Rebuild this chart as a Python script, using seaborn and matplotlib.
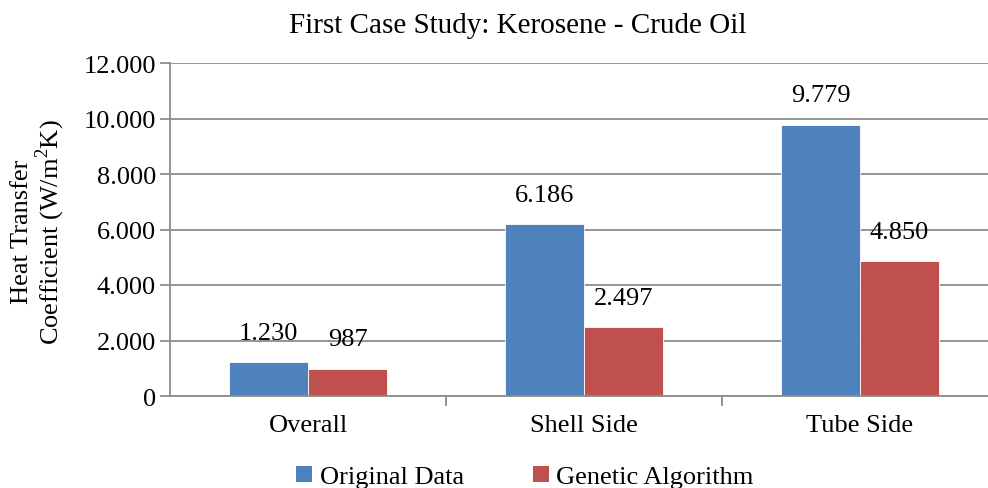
import matplotlib
matplotlib.use("Agg")
import matplotlib.pyplot as plt
import seaborn as sns
import pandas as pd
from matplotlib.ticker import FuncFormatter, FixedLocator
from matplotlib.patches import Patch

categories = ["Overall", "Shell Side", "Tube Side"]
series_names = ["Original Data", "Genetic Algorithm"]
original_data = [1230, 6186, 9779]
genetic_algorithm = [987, 2497, 4850]
y_ticks = [0, 2000, 4000, 6000, 8000, 10000, 12000]
colors = ["#4F81BD", "#C0504D"]

df = pd.DataFrame({
    "Category": categories * 2,
    "Series": [series_names[0]] * 3 + [series_names[1]] * 3,
    "Value": original_data + genetic_algorithm,
})

sns.set_theme(style="white")
plt.rcParams["font.family"] = ["Liberation Serif", "DejaVu Serif"]
plt.rcParams["mathtext.fontset"] = "custom"
plt.rcParams["mathtext.rm"] = "Liberation Serif"
plt.rcParams["text.color"] = "black"
plt.rcParams["xtick.color"] = "black"
plt.rcParams["ytick.color"] = "black"

FS = 19
W, H = 988, 489
fig = plt.figure(figsize=(W / 100, H / 100), dpi=100)
left, right, top, bottom = 170, 988, 64, 397
ax = fig.add_axes([left / W, 1 - bottom / H, (right - left) / W, (bottom - top) / H])

sns.barplot(data=df, x="Category", y="Value", hue="Series", palette=colors,
            width=0.573, ax=ax, saturation=1, legend=False, errorbar=None,
            edgecolor="white", linewidth=0.6)

ax.set_ylim(0, 12000)
ax.set_xlim(-0.5, 2.5 - 10 / 276)
ax.yaxis.set_major_locator(FixedLocator(y_ticks))
fmt = lambda v, p=None: f"{int(v):,}".replace(",", ".")
ax.yaxis.set_major_formatter(FuncFormatter(fmt))
ax.grid(axis="y", color="#8C8C8C", linewidth=1.3)
ax.set_axisbelow(True)
for s in ["top", "right"]:
    ax.spines[s].set_visible(False)
for s in ["left", "bottom"]:
    ax.spines[s].set_color("#8C8C8C")
    ax.spines[s].set_linewidth(1.3)

ax.tick_params(axis="y", which="major", length=7, width=1.3, color="#8C8C8C",
               labelcolor="black", labelsize=FS, pad=3, left=True)
ax.set_xticks([0, 1, 2])
ax.set_xticklabels(categories, fontsize=FS, color="black")
ax.tick_params(axis="x", which="major", length=0, pad=13)
ax.set_xticks([0.5, 1.5], minor=True)
ax.tick_params(axis="x", which="minor", length=7, width=1.3, color="#8C8C8C", bottom=True)
ax.set_xlabel("")
ax.set_ylabel("")

for cont in ax.containers:
    for bar in cont:
        h = bar.get_height()
        ax.annotate(fmt(h), (bar.get_x() + bar.get_width() / 2, h),
                    xytext=(0, 21), textcoords="offset points",
                    ha="center", va="center", fontsize=FS, color="black")

fig.text(518 / W, 1 - 26 / H, "First Case Study: Kerosene - Crude Oil",
         ha="center", va="center", fontsize=21, color="black")
fig.text(39 / W, 1 - 232 / H, "Heat Transfer\nCoefficient (W/m$^2$K)",
         ha="center", va="center", rotation=90, fontsize=FS, linespacing=1.0,
         color="black")

handles = [Patch(facecolor=c, edgecolor="none") for c in colors]
fig.legend(handles, series_names, loc="center", bbox_to_anchor=(525 / W, 1 - 478 / H),
           ncol=2, frameon=False, fontsize=FS, handlelength=0.6, handleheight=0.6,
           handletextpad=0.3, columnspacing=2.6)

fig.savefig("out.png", dpi=100)
